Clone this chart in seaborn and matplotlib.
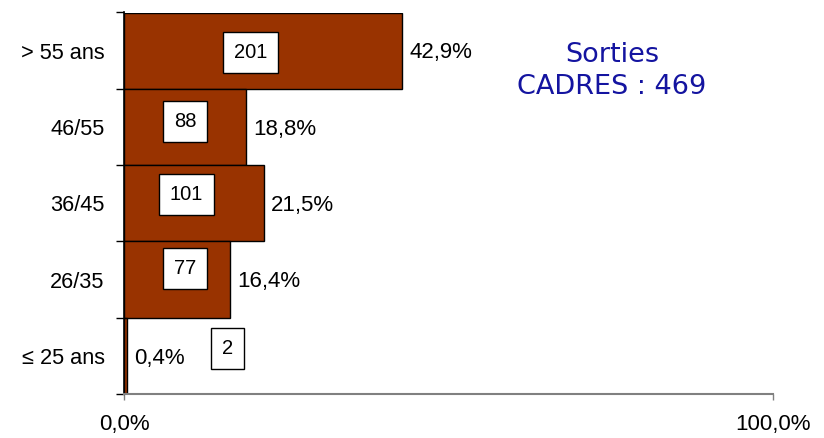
import matplotlib
matplotlib.use("Agg")
import matplotlib.pyplot as plt
import matplotlib.ticker as mticker
import pandas as pd
import seaborn as sns

# tranches d'age, du haut vers le bas
tranches = ["> 55 ans", "46/55", "36/45", "26/35", "\u2264 25 ans"]
pourcents = [42.9, 18.8, 21.5, 16.4, 0.4]
effectifs = [201, 88, 101, 77, 2]
total = 469

# emplacement des etiquettes d'effectif (x en %, decalage y en categorie)
pos_x = [19.5, 9.4, 9.6, 9.4, 16.0]
pos_dy = [0.02, -0.07, -0.12, -0.14, -0.10]

sns.set_style("white")
plt.rcParams["font.family"] = ["Liberation Sans", "DejaVu Sans"]
plt.rcParams["text.color"] = "black"
plt.rcParams["xtick.color"] = "black"
plt.rcParams["ytick.color"] = "black"

df = pd.DataFrame({"tranche": tranches, "pct": pourcents})

fig = plt.figure(figsize=(8.24, 4.38), dpi=100)
ax = fig.add_axes([124 / 824, (438 - 394) / 438, 649 / 824, (394 - 12.5) / 438])

sns.barplot(data=df, y="tranche", x="pct", orient="h", order=tranches,
            color="#993300", saturation=1, width=1.0,
            edgecolor="black", linewidth=1.0, ax=ax)

ax.set_xlim(0, 100)
ax.set_ylim(len(tranches) - 0.5, -0.5)
ax.set_xlabel("")
ax.set_ylabel("")

# axe x : 0 et 100 seulement
ax.set_xticks([0, 100])
ax.xaxis.set_major_formatter(mticker.FuncFormatter(lambda v, p: f"{v:.1f}%".replace(".", ",")))
ax.tick_params(axis="x", length=4.5, width=1, color="#808080", labelcolor="black",
               labelsize=16, pad=10, direction="out", bottom=True)

# axe y : libelles au centre, traits aux frontieres
ax.set_yticks(range(len(tranches)))
ax.set_yticklabels(tranches)
ax.tick_params(axis="y", length=0, labelsize=15.7, pad=14, labelcolor="black")
ax.set_yticks([i - 0.5 for i in range(len(tranches) + 1)], minor=True)
ax.tick_params(axis="y", which="minor", length=6, width=1, color="black", direction="out", left=True)

for s in ["top", "right"]:
    ax.spines[s].set_visible(False)
ax.spines["left"].set_color("black")
ax.spines["left"].set_linewidth(1.2)
ax.spines["bottom"].set_color("#808080")
ax.spines["bottom"].set_linewidth(1.5)

for i, v in enumerate(pourcents):
    ax.text(v + 1.1, i + 0.03, f"{v:.1f}%".replace(".", ","), va="center", ha="left",
            fontsize=16, color="black")

for i, n in enumerate(effectifs):
    ax.text(pos_x[i], i + pos_dy[i], str(n), va="center", ha="center", fontsize=14.5, color="black",
            bbox=dict(boxstyle="square,pad=0.55", facecolor="white", edgecolor="black", linewidth=1))

fig.text(612 / 824, 1 - 71 / 438, f"Sorties\nCADRES : {total}", ha="center", va="center",
         fontsize=19.5, color="#1414A0", family="DejaVu Sans", linespacing=1.3)

fig.savefig("out.png", dpi=100)
